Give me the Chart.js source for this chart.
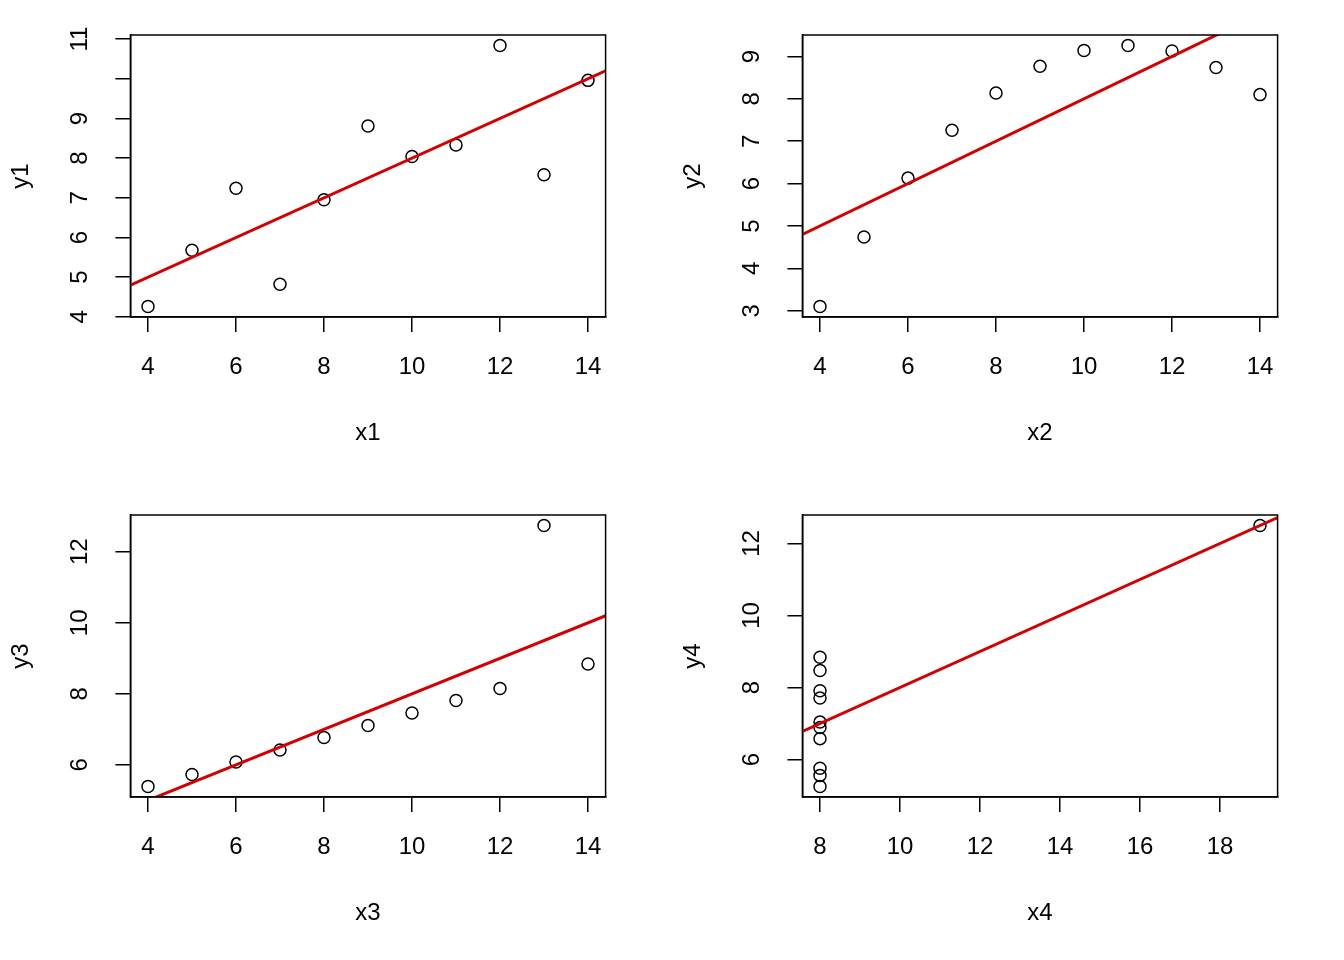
<!DOCTYPE html>
<html>
<head>
<meta charset="utf-8">
<script src="https://cdn.jsdelivr.net/npm/chart.js@4"></script>
<style>
  body { margin: 0; background: #fff; }
  #wrap { position: relative; width: 1344px; height: 960px; }
  canvas { position: absolute; }
</style>
</head>
<body>
<div id="wrap">
  <canvas id="c1" width="672" height="480" style="left:0;top:0"></canvas>
  <canvas id="c2" width="672" height="480" style="left:672px;top:0"></canvas>
  <canvas id="c3" width="672" height="480" style="left:0;top:480px"></canvas>
  <canvas id="c4" width="672" height="480" style="left:672px;top:480px"></canvas>
</div>
<script>
// Anscombe's quartet
const x123 = [10, 8, 13, 9, 11, 14, 6, 4, 12, 7, 5];
const y1 = [8.04, 6.95, 7.58, 8.81, 8.33, 9.96, 7.24, 4.26, 10.84, 4.82, 5.68];
const y2 = [9.14, 8.14, 8.74, 8.77, 9.26, 8.10, 6.13, 3.10, 9.13, 7.26, 4.74];
const y3 = [7.46, 6.77, 12.74, 7.11, 7.81, 8.84, 6.08, 5.39, 8.15, 6.42, 5.73];
const x4 = [8, 8, 8, 8, 8, 8, 8, 19, 8, 8, 8];
const y4 = [6.58, 5.76, 7.71, 8.84, 8.47, 7.04, 5.25, 12.50, 5.56, 7.91, 6.89];

// tick values and their labels
const xTicks123 = [4, 6, 8, 10, 12, 14];
const xTicks4 = [8, 10, 12, 14, 16, 18];
const yTicks1 = [4, 5, 6, 7, 8, 9, 10, 11];
const yLabels1 = ['4', '5', '6', '7', '8', '9', '', '11'];
const yTicks2 = [3, 4, 5, 6, 7, 8, 9];
const yTicks3 = [6, 8, 10, 12];
const yTicks4 = [6, 8, 10, 12];

const FAMILY = "'Liberation Sans', Arial, Helvetica, sans-serif";
const FONT = { family: FAMILY, size: 24 };
Chart.defaults.font.family = FAMILY;
Chart.defaults.font.size = 24;
Chart.defaults.color = '#000';

const measureCtx = document.createElement('canvas').getContext('2d');
measureCtx.font = '24px ' + FAMILY;

// R-style axis range: data range padded by 4% each side
function rRange(v) {
  const lo = Math.min(...v), hi = Math.max(...v);
  const d = (hi - lo) * 0.04;
  return [lo - d, hi + d];
}

function fit(xs, ys) {
  const n = xs.length;
  const mx = xs.reduce((a, b) => a + b, 0) / n;
  const my = ys.reduce((a, b) => a + b, 0) / n;
  let sxy = 0, sxx = 0;
  for (let i = 0; i < n; i++) {
    sxy += (xs[i] - mx) * (ys[i] - my);
    sxx += (xs[i] - mx) * (xs[i] - mx);
  }
  const b = sxy / sxx;
  return { a: my - b * mx, b };
}

const boxPlugin = {
  id: 'box',
  afterDatasetsDraw(chart) {
    const { ctx, chartArea: a } = chart;
    ctx.save();
    ctx.strokeStyle = '#000';
    ctx.lineWidth = 1.5;
    ctx.strokeRect(a.left, a.top, a.right - a.left, a.bottom - a.top);
    ctx.restore();
  }
};

function makePanel(id, xs, ys, xName, yName, xTicks, yTicks, yLabels) {
  const [xmin, xmax] = rRange(xs);
  const [ymin, ymax] = rRange(ys);
  const lm = fit(xs, ys);
  const labels = yLabels || yTicks.map(String);
  const widest = Math.max(...labels.map(l => measureCtx.measureText(l).width));

  new Chart(document.getElementById(id), {
    type: 'scatter',
    data: {
      datasets: [
        {
          type: 'line',
          data: [{ x: xmin, y: lm.a + lm.b * xmin }, { x: xmax, y: lm.a + lm.b * xmax }],
          borderColor: '#D20000',
          borderWidth: 3,
          pointRadius: 0,
          showLine: true,
          fill: false,
          clip: 0
        },
        {
          data: xs.map((x, i) => ({ x: x, y: ys[i] })),
          pointStyle: 'circle',
          pointRadius: 6,
          pointBorderWidth: 1.5,
          pointBorderColor: '#000',
          pointBackgroundColor: 'rgba(0,0,0,0)'
        }
      ]
    },
    options: {
      responsive: false,
      devicePixelRatio: 1,
      animation: false,
      events: [],
      layout: { padding: { top: 35, right: 66.4, left: 0, bottom: 0 } },
      plugins: { legend: { display: false }, tooltip: { enabled: false } },
      scales: {
        x: {
          type: 'linear',
          position: 'bottom',
          min: xmin,
          max: xmax,
          afterBuildTicks: s => { s.ticks = xTicks.map(v => ({ value: v })); },
          afterFit: s => { s.height = 163; s.paddingLeft = 0; s.paddingRight = 0; },
          grid: { display: true, drawOnChartArea: false, drawTicks: true, tickLength: 15, color: '#000', lineWidth: 1.5 },
          border: { display: true, color: '#000', width: 1.5 },
          ticks: {
            autoSkip: false, maxRotation: 0, padding: 21, color: '#000', font: FONT,
            callback: (v, i) => String(xTicks[i])
          },
          title: { display: true, text: xName, color: '#000', font: FONT, padding: { top: 0, bottom: 32 } }
        },
        y: {
          type: 'linear',
          position: 'left',
          min: ymin,
          max: ymax,
          afterBuildTicks: s => { s.ticks = yTicks.map(v => ({ value: v })); },
          afterFit: s => { s.width = 130.4; s.paddingTop = 0; s.paddingBottom = 0; },
          grid: { display: true, drawOnChartArea: false, drawTicks: true, tickLength: 15, color: '#000', lineWidth: 1.5 },
          border: { display: true, color: '#000', width: 1.5 },
          ticks: {
            autoSkip: false, minRotation: 90, maxRotation: 90, crossAlign: 'center',
            padding: 35 - widest / 2, color: '#000', font: FONT,
            callback: (v, i) => labels[i]
          },
          title: { display: true, text: yName, color: '#000', font: FONT, padding: { top: 7, bottom: 0 } }
        }
      }
    },
    plugins: [boxPlugin]
  });
}

makePanel('c1', x123, y1, 'x1', 'y1', xTicks123, yTicks1, yLabels1);
makePanel('c2', x123, y2, 'x2', 'y2', xTicks123, yTicks2);
makePanel('c3', x123, y3, 'x3', 'y3', xTicks123, yTicks3);
makePanel('c4', x4, y4, 'x4', 'y4', xTicks4, yTicks4);
</script>
</body>
</html>
